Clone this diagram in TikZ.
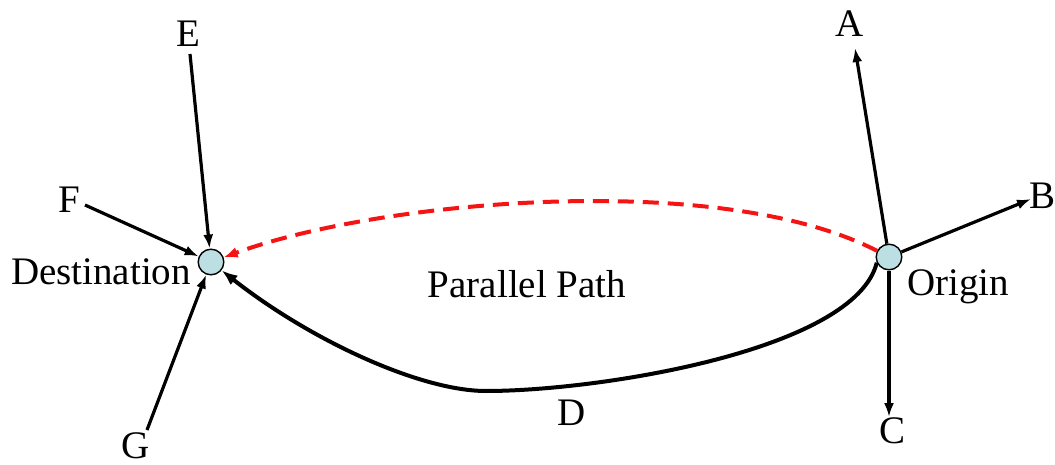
\documentclass[tikz,border=0pt]{standalone}
\usepackage{fontspec}
\setmainfont{Liberation Serif}
\usepackage{tikz}
\usetikzlibrary{arrows.meta, positioning, calc}
\definecolor{stopcyan}{RGB}{187, 223, 226}
\definecolor{parared}{RGB}{245, 20, 20}

\begin{document}
\begin{tikzpicture}[
    x=0.5pt, y=-0.5pt,
    stop/.style={circle, draw=black, line width=0.7pt, fill=stopcyan,
                 minimum size=12.8pt, inner sep=0pt},
    lbl/.style={anchor=base, inner sep=0pt, font=\fontsize{19.5}{23}\selectfont},
    link/.style={line width=1.6pt, -{Latex[length=7pt, width=5pt]}},
    route/.style={line width=2pt, -{Latex[length=8pt, width=6pt]}},
    para/.style={line width=2pt, draw=parared, dash pattern=on 8pt off 4.5pt,
                 -{Latex[length=7pt, width=5.5pt]}},
]
\useasboundingbox (0,0) rectangle (1055,465);

\node[stop] (dst) at (211,262) {};
\node[stop] (org) at (889,257) {};

\node[lbl] (dstlbl) at (101,284) {Destination};
\node[lbl] (orglbl) at (958,295) {Origin};
\node[lbl] (par) at (527,297) {Parallel Path};
\node[lbl] (d) at (572,425) {D};
\node[lbl] (a) at (850,37) {A};
\node[lbl] (b) at (1042,208) {B};
\node[lbl] (c) at (892,443) {C};
\node[lbl] (e) at (188,47) {E};
\node[lbl] (f) at (69,213) {F};
\node[lbl] (g) at (136,458) {G};

% ends of the short links
\coordinate (atip) at (855,48);
\coordinate (btip) at (1031,199);
\coordinate (ctip) at (889,417);
\coordinate (etail) at (190,54);
\coordinate (ftail) at (85,205);
\coordinate (gtail) at (147,430);

\draw[link] (org) -- (atip);
\draw[link] (org) -- (btip);
\draw[link] (org) -- (ctip);
\draw[link] (etail) -- (dst);
\draw[link] (ftail) -- (dst);
\draw[link] (gtail) -- (dst);

\draw[para] (org) .. controls (720,170) and (380,200) .. (dst);
\draw[route] (org.205) .. controls (855,350) and (600,391) .. (486,391)
             .. controls (420,391) and (310,340) .. (dst);

\end{tikzpicture}
\end{document}
